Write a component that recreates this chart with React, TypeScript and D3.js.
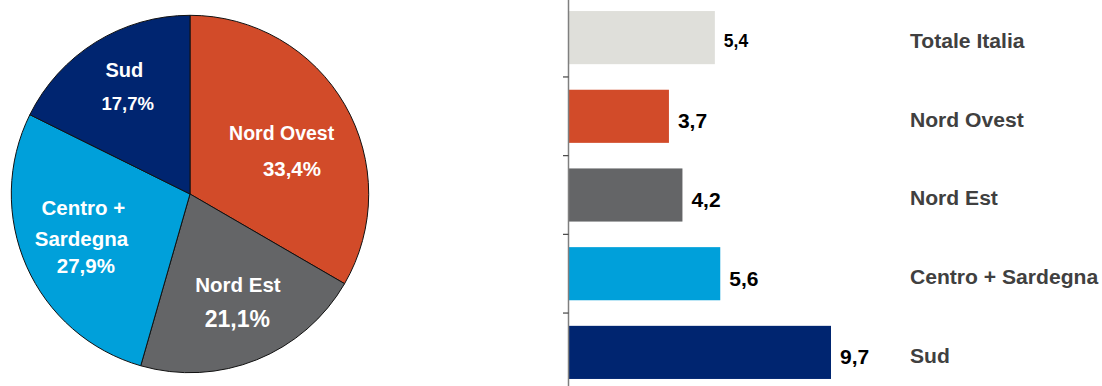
import React from "react";
import * as d3 from "d3";

// ---- Data ----
const pieCategories = ["Nord Ovest", "Nord Est", "Centro + Sardegna", "Sud"];
const pieShares = [33.4, 21.1, 27.9, 17.7];
const pieShareLabels = ["33,4%", "21,1%", "27,9%", "17,7%"];

const barCategories = ["Totale Italia", "Nord Ovest", "Nord Est", "Centro + Sardegna", "Sud"];
const barValues = [5.4, 3.7, 4.2, 5.6, 9.7];
const barValueLabels = ["5,4", "3,7", "4,2", "5,6", "9,7"];

// ---- Styles ----
const COLORS: Record<string, string> = {
  "Totale Italia": "#DFDFDA",
  "Nord Ovest": "#D24B29",
  "Nord Est": "#646567",
  "Centro + Sardegna": "#00A0DA",
  Sud: "#002570",
};
const FONT = "'Liberation Sans', Arial, Helvetica, sans-serif";

// per-slice label layout: lines (text split), offsets from centroid, font sizes
const PIE_LABEL_LAYOUT: Record<
  string,
  { lines: string[]; offsets: [number, number][]; sizes: number[] }
> = {
  "Nord Ovest": { lines: ["Nord Ovest"], offsets: [[-8, 3.3], [2.3, 39]], sizes: [19.5, 20.5] },
  "Nord Est": { lines: ["Nord Est"], offsets: [[5, -8.8], [4.4, 25.9]], sizes: [20.5, 23] },
  "Centro + Sardegna": {
    lines: ["Centro +", "Sardegna"],
    offsets: [[-1.4, -25.3], [-3.4, 5.7], [1, 33]],
    sizes: [20.5, 20.5, 20.5],
  },
  Sud: { lines: ["Sud"], offsets: [[-5, -19.3], [-1.6, 13.7]], sizes: [20, 18.5] },
};

const W = 1102;
const H = 386;

export default function App() {
  // ---- Pie ----
  const cx = 190;
  const cy = 194;
  const r = 178.7;
  const pieData = pieCategories.map((c, i) => ({ name: c, value: pieShares[i], label: pieShareLabels[i] }));
  const pie = d3
    .pie<{ name: string; value: number; label: string }>()
    .value((d) => d.value)
    .sort(null)
    .startAngle(0)
    .endAngle(2 * Math.PI);
  const arcs = pie(pieData);
  const arcGen = d3.arc<d3.PieArcDatum<any>>().innerRadius(0).outerRadius(r);
  const labelArc = d3.arc<d3.PieArcDatum<any>>().innerRadius(115).outerRadius(115);

  // ---- Bars ----
  const x0 = 569;
  const x = d3.scaleLinear().domain([0, 9.7]).range([x0, x0 + 262]);
  const y = d3
    .scaleBand<string>()
    .domain(barCategories)
    .range([-1.75, 391.75])
    .paddingInner(0.325)
    .paddingOuter(0.1625);
  const step = y.step();
  const boundaries = barCategories.slice(1).map((c) => (y(c) as number) - (step - y.bandwidth()) / 2);

  return (
    <svg
      width={W}
      height={H}
      style={{ position: "absolute", left: 0, top: 0, display: "block", background: "#fff" }}
      fontFamily={FONT}
    >
      {/* Pie */}
      <g transform={`translate(${cx},${cy})`}>
        {arcs.map((a) => (
          <path
            key={a.data.name}
            d={arcGen(a) as string}
            fill={COLORS[a.data.name]}
            stroke="#111"
            strokeWidth={1}
            strokeLinejoin="round"
          />
        ))}
        {arcs.map((a) => {
          const [lx, ly] = labelArc.centroid(a);
          const lay = PIE_LABEL_LAYOUT[a.data.name];
          const lines = [...lay.lines, a.data.label];
          return (
            <g key={a.data.name + "-lab"}>
              {lines.map((t, j) => (
                <text
                  key={j}
                  x={lx + lay.offsets[j][0]}
                  y={ly + lay.offsets[j][1]}
                  textAnchor="middle"
                  fontWeight="bold"
                  fontSize={lay.sizes[j]}
                  fill="#fff"
                >
                  {t}
                </text>
              ))}
            </g>
          );
        })}
      </g>

      {/* Bars */}
      {barCategories.map((c, i) => {
        const by = y(c) as number;
        const bh = y.bandwidth();
        const isTotal = i === 0;
        return (
          <g key={c}>
            <rect x={x(0)} y={by} width={x(barValues[i]) - x(0)} height={bh} fill={COLORS[c]} />
            <text
              x={x(barValues[i]) + 9}
              y={by + bh / 2 + (isTotal ? 9.3 : 12)}
              fontWeight="bold"
              fontSize={isTotal ? 17.5 : 21}
              fill="#000"
            >
              {barValueLabels[i]}
            </text>
            <text x={910} y={by + bh / 2 + 10.3} fontWeight="bold" fontSize={21.1} fill="#404040">
              {c}
            </text>
          </g>
        );
      })}

      {/* Axis */}
      <line x1={x0 - 0.5} x2={x0 - 0.5} y1={0} y2={H} stroke="#7f7f7f" strokeWidth={1.5} />
      {boundaries.map((b, i) => (
        <line key={i} x1={x0 - 6} x2={x0 - 0.5} y1={b} y2={b} stroke="#444" strokeWidth={1.2} />
      ))}
    </svg>
  );
}
